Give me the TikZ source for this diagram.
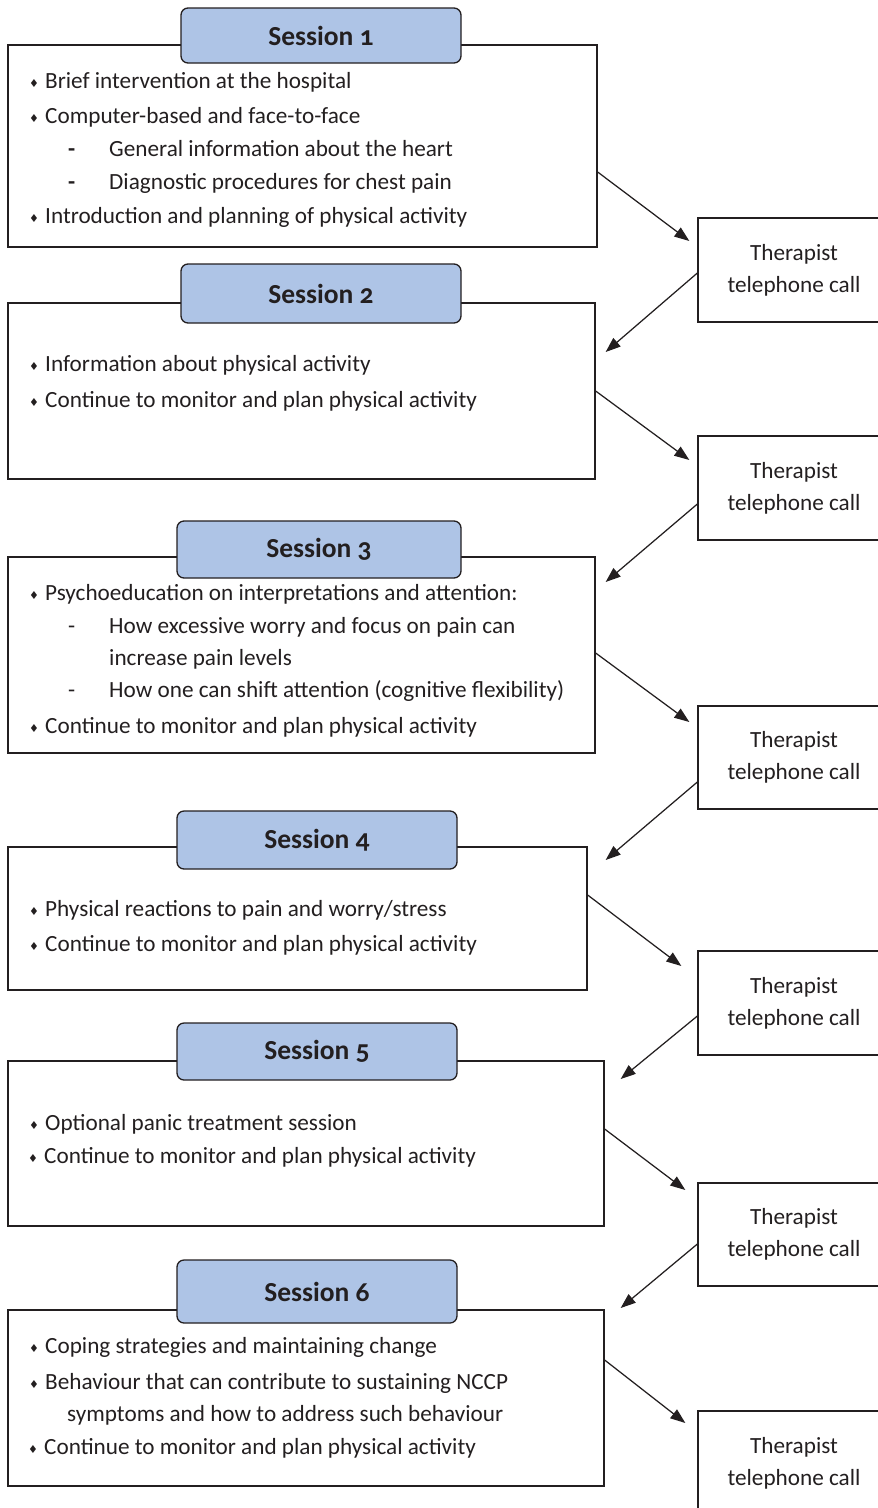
\documentclass[tikz,border=0pt]{standalone}
\usepackage{fontspec}
\setmainfont{Carlito}
\newfontfamily\dejavu{DejaVu Sans}
\usetikzlibrary{arrows.meta,calc}
\definecolor{hdrblue}{RGB}{174,196,230}
\definecolor{lineclr}{RGB}{35,31,32}
\newcommand\bulletd{\makebox[16pt][l]{\raisebox{0.1ex}{\dejavu\fontsize{11}{11}\selectfont ♦}}}
\newcommand\dashd[1][-]{\makebox[41pt][l]{#1}}
\newcommand\hdrtext[1]{\raisebox{-1.5pt}{#1}}
\begin{document}
\begin{tikzpicture}[x=1pt,y=-1pt,
  sessbox/.style={draw=lineclr, line width=1.3pt, inner sep=0pt},
  hdrbox/.style={draw=lineclr, line width=1.3pt, fill=hdrblue, rounded corners=7pt,
     inner sep=0pt, minimum width=280pt, font=\fontsize{27.5}{30}\selectfont\bfseries\addfontfeatures{Numbers=OldStyle}, text=lineclr},
  thbox/.style={draw=lineclr, line width=1.3pt, inner sep=0pt, minimum width=192pt, minimum height=104pt,
     align=center, font=\fontsize{23.2}{32}\selectfont, text=lineclr},
  item/.style={anchor=base west, inner sep=0pt, font=\fontsize{23.2}{26}\selectfont, text=lineclr},
  arr/.style={draw=lineclr, line width=1.25pt, -{Triangle[length=15pt,width=11pt]}}]
\useasboundingbox (0,0) rectangle (878,1508);
\clip (0,0) rectangle (878,1508);
% session boxes
\node[sessbox, minimum width=589pt, minimum height=202pt] (s1) at (302.5,146) {};
\node[sessbox, minimum width=587pt, minimum height=176pt] (s2) at (301.5,391) {};
\node[sessbox, minimum width=587pt, minimum height=196pt] (s3) at (301.5,655) {};
\node[sessbox, minimum width=579pt, minimum height=143pt] (s4) at (297.5,918.5) {};
\node[sessbox, minimum width=596pt, minimum height=165pt] (s5) at (306,1143.5) {};
\node[sessbox, minimum width=596pt, minimum height=176pt] (s6) at (306,1398) {};
% headers
\node[hdrbox, minimum height=55pt] (h1) at (321,35.5) {\hdrtext{Session 1}};
\node[hdrbox, minimum height=59pt] (h2) at (321,293.5) {\hdrtext{Session 2}};
\node[hdrbox, minimum width=284pt, minimum height=57pt] (h3) at (319,549.5) {\hdrtext{Session 3}};
\node[hdrbox, minimum height=58pt] (h4) at (317,840) {\hdrtext{Session 4}};
\node[hdrbox, minimum height=57pt] (h5) at (317,1051.5) {\hdrtext{Session 5}};
\node[hdrbox, minimum height=63pt] (h6) at (317,1291.5) {\hdrtext{Session 6}};
% therapist boxes
\node[thbox] (t1) at (794,270) {Therapist\\telephone call};
\node[thbox] (t2) at (794,488) {Therapist\\telephone call};
\node[thbox, minimum height=103pt] (t3) at (794,757.5) {Therapist\\telephone call};
\node[thbox] (t4) at (794,1003) {Therapist\\telephone call};
\node[thbox, minimum height=103pt] (t5) at (794,1234.5) {Therapist\\telephone call};
\node[thbox] (t6) at (794,1463) {Therapist\\telephone call};
% session 1 text
\node[item] (s1a) at (29,88.5) {\bulletd Brief intervention at the hospital};
\node[item] (s1b) at (29,123.5) {\bulletd Computer-based and face-to-face};
\node[item] (s1c) at (68,156.5) {\dashd[\textbf{-}]General information about the heart};
\node[item] (s1d) at (68,189.5) {\dashd[\textbf{-}]Diagnostic procedures for chest pain};
\node[item] (s1e) at (29,223.5) {\bulletd Introduction and planning of physical activity};
% session 2 text
\node[item] (s2a) at (29,371.5) {\bulletd Information about physical activity};
\node[item] (s2b) at (29,407.5) {\bulletd Continue to monitor and plan physical activity};
% session 3 text
\node[item] (s3a) at (29,600.5) {\bulletd Psychoeducation on interpretations and attention:};
\node[item] (s3b) at (68,633.5) {\dashd How excessive worry and focus on pain can};
\node[item] (s3c) at (109,665.5) {increase pain levels};
\node[item] (s3d) at (68,697.5) {\dashd How one can shift attention (cognitive flexibility)};
\node[item] (s3e) at (29,733.5) {\bulletd Continue to monitor and plan physical activity};
% session 4 text
\node[item] (s4a) at (29,916.5) {\bulletd Physical reactions to pain and worry/stress};
\node[item] (s4b) at (29,951.5) {\bulletd Continue to monitor and plan physical activity};
% session 5 text
\node[item] (s5a) at (29,1130.5) {\bulletd Optional panic treatment session};
\node[item] (s5b) at (28,1163.5) {\bulletd Continue to monitor and plan physical activity};
% session 6 text
\node[item] (s6a) at (29,1353.5) {\bulletd Coping strategies and maintaining change};
\node[item] (s6b) at (29,1389.5) {\bulletd Behaviour that can contribute to sustaining NCCP};
\node[item] (s6c) at (67,1421.5) {symptoms and how to address such behaviour};
\node[item] (s6d) at (28,1454.5) {\bulletd Continue to monitor and plan physical activity};
% arrows
\draw[arr] ($(s1.east)+(0,26)$) -- ($(t1.west)+(-8,-29)$);
\draw[arr] ($(t1.west)+(0,3)$) -- ($(s2.east)+(10,-39)$);
\draw[arr] (s2.east) -- ($(t2.west)+(-8,-28)$);
\draw[arr] ($(t2.west)+(0,16)$) -- ($(s3.east)+(10,-73)$);
\draw[arr] ($(s3.east)+(0,-2)$) -- ($(t3.west)+(-8,-35.5)$);
\draw[arr] ($(t3.west)+(0,24.5)$) -- ($(s4.east)+(18,-58.5)$);
\draw[arr] ($(s4.east)+(0,-23.5)$) -- ($(t4.west)+(-16,-37)$);
\draw[arr] ($(t4.west)+(0,13)$) -- ($(s5.east)+(16,-64.5)$);
\draw[arr] ($(s5.east)+(0,-14.5)$) -- ($(t5.west)+(-12,-44.5)$);
\draw[arr] ($(t5.west)+(0,9.5)$) -- ($(s6.east)+(16,-90)$);
\draw[arr] ($(s6.east)+(0,-38)$) -- ($(t6.west)+(-12,-40)$);
\end{tikzpicture}
\end{document}
